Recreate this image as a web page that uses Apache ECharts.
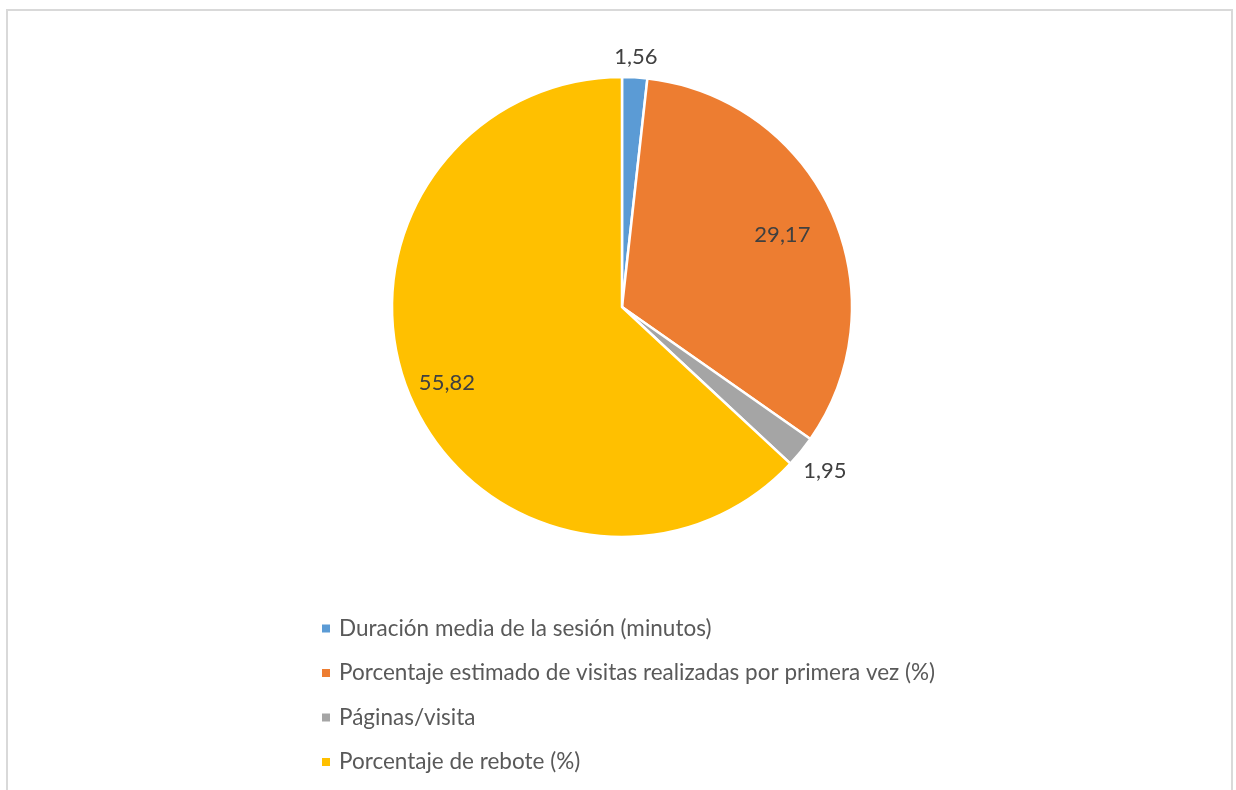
<!DOCTYPE html>
<html>
<head>
<meta charset="utf-8">
<script src="https://cdn.jsdelivr.net/npm/echarts@6/dist/echarts.min.js"></script>
<style>
    html, body {
        margin: 0;
        padding: 0;
        background: #fff;
    }

    .frame {
        position: absolute;
        left: 6px;
        top: 9px;
        width: 1227px;
        height: 800px;
        border: 2px solid #d9d9d9;
        box-sizing: border-box;
    }

    #chart {
        position: absolute;
        left: 0;
        top: 0;
        width: 1236px;
        height: 790px;
    }
</style>
</head>
<body>
<div class="frame"></div>
<div id="chart"></div>
<script>
    // datos
    const names = [
        'Duración media de la sesión (minutos)',
        'Porcentaje estimado de visitas realizadas por primera vez (%)',
        'Páginas/visita',
        'Porcentaje de rebote (%)'
    ]
    const values = [1.56, 29.17, 1.95, 55.82]
    const colors = ['#5b9bd5', '#ed7d31', '#a5a5a5', '#ffc000']
    // distancia radial de cada etiqueta respecto al borde (px)
    const labelOffsets = [20, -54, 31, -39]

    const chartObj = echarts.init(document.getElementById('chart'))

    const fontFamily = 'Lato, "Open Sans", sans-serif'

    const option = {
        backgroundColor: 'transparent',
        color: colors,
        animation: false,
        legend: {
            data: names,
            orient: 'vertical',
            left: 315,
            top: 612,
            itemGap: 21.5,
            itemWidth: 10,
            itemHeight: 10,
            icon: 'rect',
            textStyle: {
                fontFamily: fontFamily,
                fontSize: 22.5,
                color: '#595959',
                padding: [0, 0, 0, 3]
            }
        },
        series: [{
            type: 'pie',
            center: [622, 307],
            radius: 230,
            startAngle: 90,
            clockwise: true,
            avoidLabelOverlap: false,
            itemStyle: {
                borderColor: '#fff',
                borderWidth: 2.5
            },
            label: {
                show: true,
                position: 'outside',
                distanceToLabelLine: 0,
                fontFamily: fontFamily,
                fontSize: 22,
                color: '#404040',
                formatter: p => String(p.value).replace('.', ',')
            },
            labelLine: {show: false, length2: 0},
            labelLayout: {align: 'center', verticalAlign: 'middle'},
            emphasis: {disabled: true},
            data: names.map((n, i) => ({
                name: n,
                value: values[i],
                labelLine: {show: false, length: labelOffsets[i], length2: 0}
            }))
        }]
    }

    chartObj.setOption(option)
</script>
</body>
</html>
